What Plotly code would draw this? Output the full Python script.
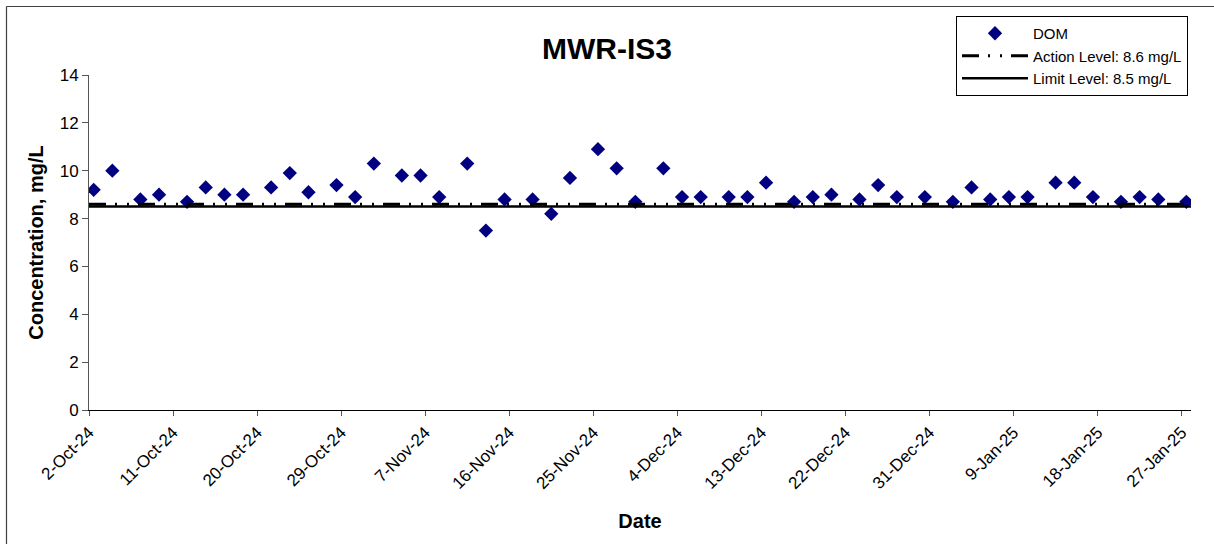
import pandas as pd
import plotly.graph_objects as go

# ---- data ----
sample_dates = [
    "2024-10-02", "2024-10-04", "2024-10-07", "2024-10-09", "2024-10-12", "2024-10-14",
    "2024-10-16", "2024-10-18", "2024-10-21", "2024-10-23", "2024-10-25", "2024-10-28",
    "2024-10-30", "2024-11-01", "2024-11-04", "2024-11-06", "2024-11-08", "2024-11-11",
    "2024-11-13", "2024-11-15", "2024-11-18", "2024-11-20", "2024-11-22", "2024-11-25",
    "2024-11-27", "2024-11-29", "2024-12-02", "2024-12-04", "2024-12-06", "2024-12-09",
    "2024-12-11", "2024-12-13", "2024-12-16", "2024-12-18", "2024-12-20", "2024-12-23",
    "2024-12-25", "2024-12-27", "2024-12-30", "2025-01-02", "2025-01-04", "2025-01-06",
    "2025-01-08", "2025-01-10", "2025-01-13", "2025-01-15", "2025-01-17", "2025-01-20",
    "2025-01-22", "2025-01-24", "2025-01-27",
]
dom_values = [
    9.2, 10.0, 8.8, 9.0, 8.7, 9.3, 9.0, 9.0, 9.3, 9.9, 9.1, 9.4, 8.9, 10.3, 9.8, 9.8, 8.9,
    10.3, 7.5, 8.8, 8.8, 8.2, 9.7, 10.9, 10.1, 8.7, 10.1, 8.9, 8.9, 8.9, 8.9, 9.5,
    8.7, 8.9, 9.0, 8.8, 9.4, 8.9, 8.9, 8.7, 9.3, 8.8, 8.9, 8.9, 9.5, 9.5, 8.9, 8.7, 8.9, 8.8, 8.7,
]
action_level = 8.6
limit_level = 8.5
axis_start = "2024-10-02"
axis_end = "2025-01-28"
y_max = 14

# Excel date axis places each day's point in the middle of its day slot
x_pts = pd.to_datetime(sample_dates) + pd.Timedelta(hours=12)
level_x = [axis_start, axis_end]

FONT = "Liberation Sans, Arial, sans-serif"

fig = go.Figure()
fig.add_trace(go.Scatter(
    x=x_pts, y=dom_values, mode="markers", name="DOM",
    marker=dict(symbol="diamond", size=11, color="#000080", line=dict(width=0)),
))
fig.add_trace(go.Scatter(
    x=level_x, y=[action_level] * 2, mode="lines", name="Action Level: 8.6 mg/L",
    line=dict(color="black", width=3, dash="17px,9px,2px,10px,2px,9px"),
))
fig.add_trace(go.Scatter(
    x=level_x, y=[limit_level] * 2, mode="lines", name="Limit Level: 8.5 mg/L",
    line=dict(color="black", width=2.5),
))

W, H = 1214, 544
L, R, T, B = 89, 23, 75, 134
pw, ph = W - L - R, H - T - B

def px_x(p):
    return (p - L) / pw

def px_y(p):
    return (H - B - p) / ph

fig.update_layout(
    width=W, height=H,
    margin=dict(l=L, r=R, t=T, b=B, autoexpand=False),
    paper_bgcolor="white", plot_bgcolor="white",
    font=dict(family=FONT, color="black", size=17),
    title=dict(text="<b>MWR-IS3</b>", font=dict(size=30, family=FONT, color="black"),
               x=0.5, xref="container", xanchor="center",
               y=1 - 48 / H, yref="container", yanchor="middle"),
    showlegend=True,
    legend=dict(
        x=px_x(956), y=px_y(16), xanchor="left", yanchor="top",
        xref="paper", yref="paper",
        bordercolor="black", borderwidth=1, bgcolor="white",
        font=dict(size=15, family=FONT, color="black"),
        itemwidth=66, tracegroupgap=0,
        entrywidth=240, entrywidthmode="pixels",
    ),
    xaxis=dict(
        type="date", range=[axis_start, axis_end],
        tick0=axis_start, dtick=9 * 86400000, tickformat="%-d-%b-%y",
        tickangle=-45, ticks="outside", ticklen=5, tickcolor="#555",
        showline=True, linecolor="black", linewidth=1,
        showgrid=False, zeroline=False,
        tickfont=dict(size=17, family=FONT, color="black"),
        title=dict(text="<b>Date</b>", font=dict(size=20, family=FONT, color="black"), standoff=22),
    ),
    yaxis=dict(
        range=[0, y_max], dtick=2, tick0=0,
        ticks="outside", ticklen=6, tickcolor="#555",
        showline=True, linecolor="#555", linewidth=1,
        showgrid=False, zeroline=False,
        tickfont=dict(size=17, family=FONT, color="black"),
        title=dict(text="<b>Concentration, mg/L</b>", font=dict(size=20, family=FONT, color="black"), standoff=10),
    ),
    shapes=[
        dict(type="line", xref="paper", yref="paper", x0=px_x(6.5), x1=px_x(6.5),
             y0=px_y(H + 5), y1=px_y(6.5), line=dict(color="#404040", width=1.2)),
        dict(type="line", xref="paper", yref="paper", x0=px_x(6.5), x1=px_x(W + 5),
             y0=px_y(6.5), y1=px_y(6.5), line=dict(color="#404040", width=1.2)),
    ],
)

fig.write_html(
    "out.html",
    config={"displayModeBar": False},
    post_script="document.body.style.margin='0px';document.body.style.overflow='hidden';",
)
